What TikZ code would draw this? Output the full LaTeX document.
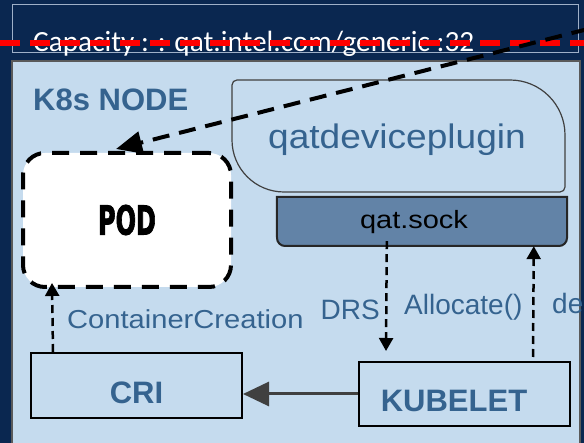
\documentclass[tikz,border=0pt]{standalone}
\usepackage{fontspec}
\usepackage{graphicx}
\setmainfont{Liberation Sans}
\newfontfamily\capfont{Carlito}
\newfontfamily\podfont{DejaVu Sans}[BoldFeatures={FakeBold=2.5}]
\usetikzlibrary{arrows.meta,calc}

\definecolor{navy}{HTML}{0A2750}
\definecolor{panel}{HTML}{C5DBEE}
\definecolor{panelborder}{HTML}{5A5A5A}
\definecolor{textblue}{HTML}{35638F}
\definecolor{sockfill}{HTML}{6283A7}
\definecolor{outlinegrey}{HTML}{9FB0C8}
\definecolor{arrowgrey}{HTML}{404040}

\newcommand\stretchx[2]{\scalebox{#1}[1]{#2}}

\tikzset{
  fs/.style={font=\fontsize{#1}{#1}\selectfont},
  plainbox/.style={draw=black, line width=2pt, inner sep=0pt},
  boldlbl/.style={inner sep=0pt, text=textblue, font=\bfseries\fontsize{31}{31}\selectfont},
  bluelbl/.style={inner sep=0pt, text=textblue, fs=#1},
  podbox/.style={draw=black, fill=white, line width=4pt, dash pattern=on 17pt off 11pt,
    rounded corners=22pt, minimum width=208pt, minimum height=134pt, inner sep=0pt,
    font=\podfont\bfseries\fontsize{40}{40}\selectfont},
  bigdash/.style={draw=black, line width=4pt, dash pattern=on 17pt off 10pt,
    -{Triangle[length=26pt,width=22pt]}},
  smalldash/.style={draw=black, line width=2.5pt, dash pattern=on 8pt off 5pt,
    -{Triangle[length=13pt,width=14pt]}},
  greyarrow/.style={draw=arrowgrey, line width=3pt, -{Triangle[length=26pt,width=24pt]}},
}

\begin{document}
\begin{tikzpicture}[x=1pt,y=-1pt]
\useasboundingbox (0,0) rectangle (584,443);
\fill[navy] (0,0) rectangle (584,443);

% capacity banner
\draw[outlinegrey, line width=1pt] (12.7,4.7) rectangle (578,53);
\node[anchor=base west, inner sep=0pt, text=white, font=\capfont\fontsize{29.3}{29.3}\selectfont]
  (capacity) at (33,52) {Capacity : : qat.intel.com/generic :32};

% node panel
\fill[panel] (12,61) rectangle (580,446);
\draw[panelborder, line width=2pt] (12,446) -- (12,61) -- (580,61) -- (580,446);
\node[boldlbl, anchor=base west] (k8s) at (33,111) {K8s NODE};

% device plugin
\draw[arrowgrey, line width=1.2pt, fill=panel]
  (237,80) -- (510,80) .. controls (540.4,80) and (565,104.6) .. (565,135)
  -- (565,187) .. controls (565,189.8) and (562.8,192) .. (560,192)
  -- (284,192) .. controls (255.3,192) and (232,168.7) .. (232,140)
  -- (232,85) .. controls (232,82.2) and (234.2,80) .. (237,80) -- cycle;
\node[bluelbl=34, anchor=base] (plugin) at (397,149) {\stretchx{1.09}{qatdeviceplugin}};

% socket
\node[minimum width=290pt, minimum height=49pt, inner sep=0pt] (sock) at (422,221.5) {};
\draw[draw=black!85, line width=2pt, fill=sockfill]
  (sock.north west) -- (sock.north east) -- (567,238)
  .. controls (567,242.4) and (563.4,246) .. (559,246)
  -- (285,246) .. controls (280.6,246) and (277,242.4) .. (277,238) -- cycle;
\node[inner sep=0pt, fs=25, anchor=base] (socklbl) at (414,229) {\stretchx{1.16}{qat.sock}};

% pod
\node[podbox] (pod) at (127,220) {\stretchx{0.6}{POD}};

% runtime boxes
\node[plainbox, minimum width=211pt, minimum height=65pt] (cri) at (136.5,385.5) {};
\node[boldlbl, anchor=base] (crilbl) at (136.5,404) {CRI};
\node[plainbox, minimum width=211pt, minimum height=64pt] (kubelet) at (464.5,394) {};
\node[boldlbl, anchor=base] (kubeletlbl) at (454,412) {KUBELET};

% calls between components
\draw[greyarrow] (kubelet.west) -- (kubelet.west -| cri.east);
\draw[smalldash] ($(cri.north west)+(23,0)$) -- ($(pod.south west)+(31,-6)$);
\node[bluelbl=26, anchor=base west] (cclbl) at (67,329) {\stretchx{1.12}{ContainerCreation}};
\draw[smalldash] ($(sock.south west)+(110,-5)$) -- ($(kubelet.north west)+(28,-10)$);
\draw[smalldash] ($(kubelet.north west)+(175,-4)$) -- ($(sock.south west)+(257,0)$);
\node[bluelbl=28, anchor=base east] (drslbl) at (380,320) {DRS};
\node[bluelbl=28, anchor=base west] (alloclbl) at (404,315) {Allocate()};
\node[bluelbl=28, anchor=base west] (delbl) at (552,314) {de};

% advertised capacity line
\draw[red, line width=6pt, dash pattern=on 20pt off 10pt] (0,43) -- (584,43);

% capacity feed into the pod
\coordinate (feed) at (588,29);
\draw[bigdash] (feed) -- ($(pod.north west)+(95,-2)$);
\end{tikzpicture}
\end{document}
